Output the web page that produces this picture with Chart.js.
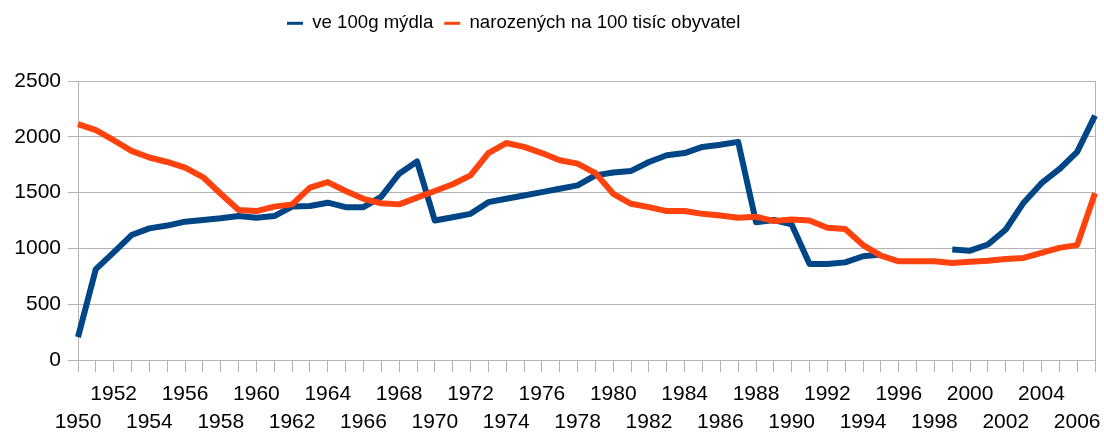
<!DOCTYPE html>
<html>
<head>
<meta charset="utf-8">
<script src="https://cdn.jsdelivr.net/npm/chart.js@4"></script>
<style>
html,body{margin:0;padding:0;background:#fff;}
#wrap{width:1104px;height:432px;position:relative;}
</style>
</head>
<body>
<div id="wrap"><canvas id="c" width="1104" height="432"></canvas></div>
<script>
const years = [];
for (let y = 1950; y <= 2007; y++) years.push(String(y));

const seriesNames = ['ve 100g mýdla', 'narozených na 100 tisíc obyvatel'];

const soap = [205,815,965,1120,1180,1205,1240,1255,1270,1290,
  1275,1290,1375,1380,1410,1370,1370,1465,1670,1780,
  1250,1280,1310,1415,1445,1475,1505,1535,1565,1655,
  1680,1695,1775,1835,1855,1910,1930,1955,1235,1255,
  1215,860,860,875,930,945,null,null,null,990,
  980,1035,1170,1410,1585,1710,1865,2190];

const births = [2115,2060,1970,1875,1815,1775,1725,1640,1490,1345,
  1335,1375,1395,1545,1595,1515,1445,1405,1395,1455,
  1515,1575,1655,1855,1945,1910,1855,1790,1760,1675,
  1490,1400,1370,1335,1335,1310,1295,1275,1285,1245,
  1260,1250,1185,1175,1030,935,885,885,885,870,
  880,890,905,915,960,1005,1030,1495];

const yTicks = [0, 500, 1000, 1500, 2000, 2500];

const GRID = '#b3b3b3';
const FONT = '"Liberation Sans", Arial, sans-serif';

const legendTweak = {
  id: 'legendTweak',
  beforeLayout(chart) {
    const lg = chart.legend;
    if (lg && !lg._wrappedFit) {
      const f = lg.fit;
      lg.fit = function () { f.call(this); this.height += 38.5; };
      lg._wrappedFit = true;
    }
  },
  afterLayout(chart) {
    if (chart.legend) chart.legend.left = 276;
  }
};

new Chart(document.getElementById('c'), {
  type: 'line',
  data: {
    labels: years,
    datasets: [
      { label: seriesNames[0], data: soap, borderColor: '#004586', backgroundColor: '#004586',
        borderWidth: 6, pointRadius: 0, tension: 0, spanGaps: false, order: 1,
        borderJoinStyle: 'round' },
      { label: seriesNames[1], data: births, borderColor: '#ff420e', backgroundColor: '#ff420e',
        borderWidth: 6, pointRadius: 0, tension: 0, order: 0, borderJoinStyle: 'round' }
    ]
  },
  options: {
    responsive: false,
    animation: false,
    layout: { padding: { top: 3, right: 9, bottom: 0, left: 0 } },
    plugins: {
      tooltip: { enabled: false },
      legend: {
        position: 'top',
        align: 'start',
        labels: {
          color: '#000',
          font: { family: FONT, size: 18.6 },
          boxWidth: 16,
          boxHeight: 3,
          padding: 11,
          sort: (a, b) => a.datasetIndex - b.datasetIndex,
          generateLabels(chart) {
            return Chart.defaults.plugins.legend.labels.generateLabels(chart).map(it => {
              const ds = chart.data.datasets[it.datasetIndex];
              it.fillStyle = ds.borderColor;
              it.strokeStyle = ds.borderColor;
              it.lineWidth = 0;
              return it;
            });
          }
        }
      }
    },
    scales: {
      x: {
        type: 'category',
        offset: false,
        grid: {
          display: true,
          drawOnChartArea: true,
          color: ctx => (ctx.index === years.length - 1 ? GRID : 'rgba(0,0,0,0)'),
          tickColor: GRID,
          tickLength: 12,
          lineWidth: 1
        },
        border: { color: GRID, width: 1 },
        ticks: {
          autoSkip: false,
          maxRotation: 0,
          minRotation: 0,
          padding: 8,
          color: '#000',
          font: { family: FONT, size: 21, lineHeight: 28 / 21 },
          callback: function (val, i) {
            if (i % 4 === 0) return ['', years[i]];
            if (i % 4 === 2) return [years[i]];
            return '';
          }
        },
        afterFit: s => { s.height = 72; }
      },
      y: {
        min: 0,
        max: 2500,
        afterBuildTicks: s => { s.ticks = yTicks.map(v => ({ value: v })); },
        grid: { color: GRID, tickColor: GRID, tickLength: 10, lineWidth: 1 },
        border: { color: GRID, width: 1 },
        ticks: {
          padding: 7,
          color: '#000',
          font: { family: FONT, size: 21 },
          callback: v => String(v)
        },
        afterFit: s => { s.width = 78; }
      }
    }
  },
  plugins: [legendTweak]
});
</script>
</body>
</html>
